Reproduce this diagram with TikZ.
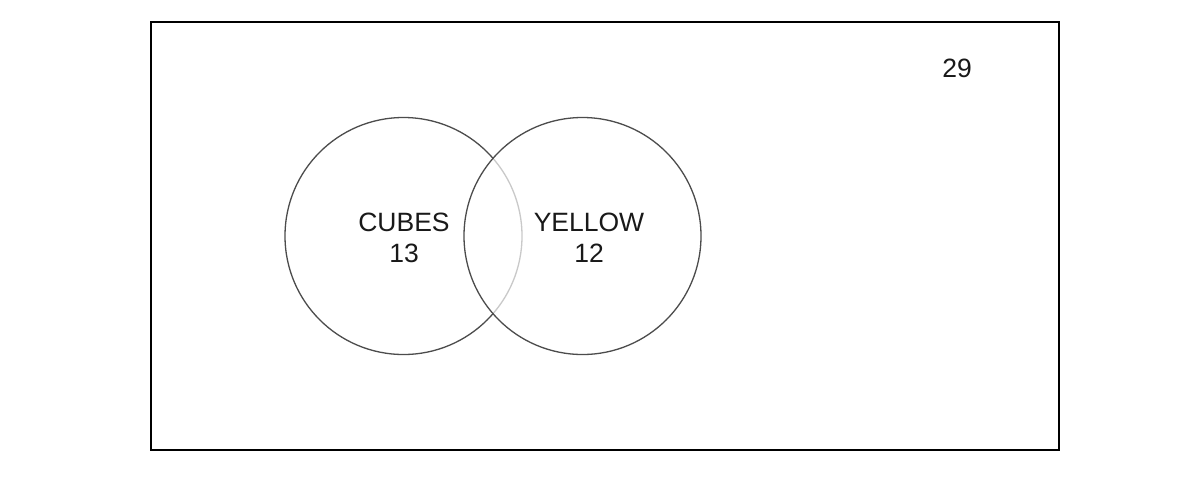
\documentclass[tikz,border=0pt]{standalone}
\usepackage{fontspec}
\setmainfont{Liberation Sans}
\begin{document}
\begin{tikzpicture}[x=1pt,y=-1pt,
  setring/.style={circle,draw=black!70,line width=1.3pt,minimum size=237pt,inner sep=0pt},
  lbl/.style={font=\fontsize{26.5}{31}\selectfont,align=center,text=black!90,inner sep=0pt}]
\useasboundingbox[fill=white] (0,0) rectangle (1194,482);
\node[draw=black,line width=1.8pt,minimum width=908pt,minimum height=428pt,inner sep=0pt] (universe) at (605,236) {};
\node[setring] (cubes) at (403.5,236) {};
\node[setring,fill=white,fill opacity=0.7] (yellow) at (582.5,236) {};
\node[lbl] (cubeslbl) at (404,237.5) {CUBES\\13};
\node[lbl] (yellowlbl) at (589,237.5) {YELLOW\\12};
\node[lbl] (outside) at (957,68) {29};
\end{tikzpicture}
\end{document}
